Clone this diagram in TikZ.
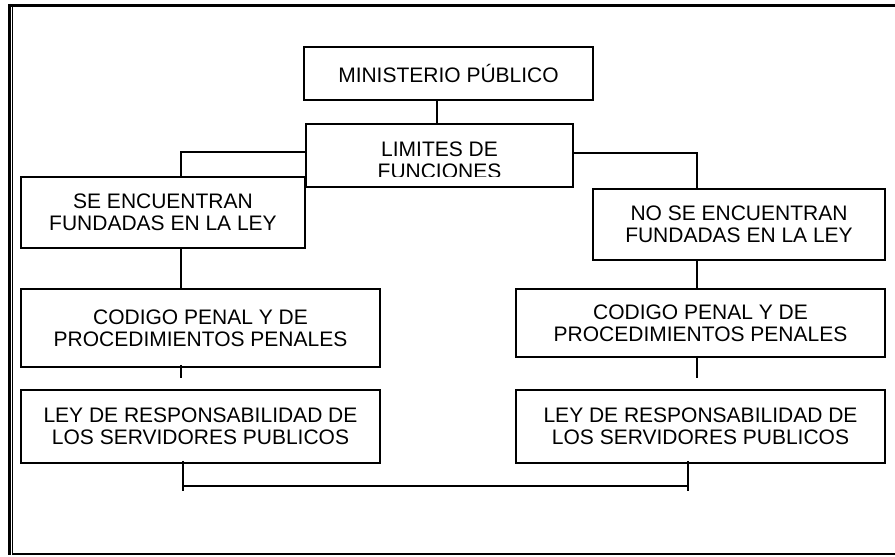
\documentclass[tikz,border=0pt]{standalone}
\usepackage{fontspec}
\setmainfont{Liberation Sans}
\begin{document}
\begin{tikzpicture}[x=0.02cm, y=-0.02cm,
        font=\fontsize{11.95}{12.35}\selectfont,
        caja/.style={draw, line width=1.1pt, align=center, inner sep=0pt},
        enlace/.style={line width=1.1pt}]
    \useasboundingbox (0,0) rectangle (895,557);

    % marco de la hoja
    \draw[line width=0.06cm] (8,5.5) -- (895,5.5);
    \draw[line width=0.045cm] (9.5,4) -- (9.5,555);
    \draw[line width=0.03cm] (12.5,7) -- (12.5,553);
    \draw[line width=0.04cm] (12,554) -- (895,554);

    % cajas principales
    \node[caja, minimum width=5.78cm, minimum height=1.06cm] (mp) at (448.5,73.5) {MINISTERIO PÚBLICO};
    \node[caja, minimum width=5.34cm, minimum height=1.26cm, path picture={
            \clip ([yshift=0.2cm]path picture bounding box.south west) rectangle (path picture bounding box.north east);
            \node[align=center, yshift=-0.09cm] at (path picture bounding box.center) {LIMITES DE\\FUNCIONES};
        }] (lim) at (439.5,155.5) {};
    \node[caja, minimum width=5.68cm, minimum height=1.42cm] (se) at (163,212.5) {SE ENCUENTRAN\\FUNDADAS EN LA LEY};
    \node[caja, minimum width=5.84cm, minimum height=1.42cm] (nose) at (739,224.5) {NO SE ENCUENTRAN\\FUNDADAS EN LA LEY};

    % leyes de cada lado
    \node[caja, minimum width=7.18cm, minimum height=1.56cm] (codl) at (200.5,328) {CODIGO PENAL Y DE\\PROCEDIMIENTOS PENALES};
    \node[caja, minimum width=7.38cm, minimum height=1.36cm] (codr) at (700.5,323) {CODIGO PENAL Y DE\\PROCEDIMIENTOS PENALES};
    \foreach \n/\x/\w in {leyl/200.5/7.18cm, leyr/700.5/7.38cm} {
        \node[caja, minimum width=\w, minimum height=1.46cm] (\n) at (\x,426.5) {LEY DE RESPONSABILIDAD DE\\LOS SERVIDORES PUBLICOS};
    }

    % enlaces
    \draw[enlace] ([xshift=-0.23cm]mp.south) -- ([xshift=-0.05cm]lim.north);
    \draw[enlace] ([yshift=0.07cm]lim.west) -| ([xshift=0.36cm]se.north);
    \draw[enlace] ([yshift=0.05cm]lim.east) -| ([xshift=-0.84cm]nose.north);
    \draw[enlace] ([xshift=0.36cm]se.south) -- ([xshift=-0.39cm]codl.north);
    \draw[enlace] ([xshift=-0.84cm]nose.south) -- ([xshift=-0.07cm]codr.north);
    \draw[enlace] ([xshift=-0.39cm,yshift=0.06cm]codl.south) -- ([xshift=-0.39cm,yshift=0.22cm]leyl.north);
    \draw[enlace] ([xshift=-0.07cm,yshift=0.04cm]codr.south) -- ([xshift=-0.07cm,yshift=0.22cm]leyr.north);

    % union inferior
    \coordinate (pl) at ([xshift=-0.35cm,yshift=-0.44cm]leyl.south);
    \coordinate (pr) at ([xshift=-0.25cm,yshift=-0.44cm]leyr.south);
    \draw[enlace] ([xshift=-0.35cm,yshift=0.06cm]leyl.south) -- ([xshift=-0.35cm,yshift=-0.54cm]leyl.south);
    \draw[enlace] ([xshift=-0.25cm,yshift=0.06cm]leyr.south) -- ([xshift=-0.25cm,yshift=-0.54cm]leyr.south);
    \draw[enlace] (pl) -- (pr);
\end{tikzpicture}
\end{document}
